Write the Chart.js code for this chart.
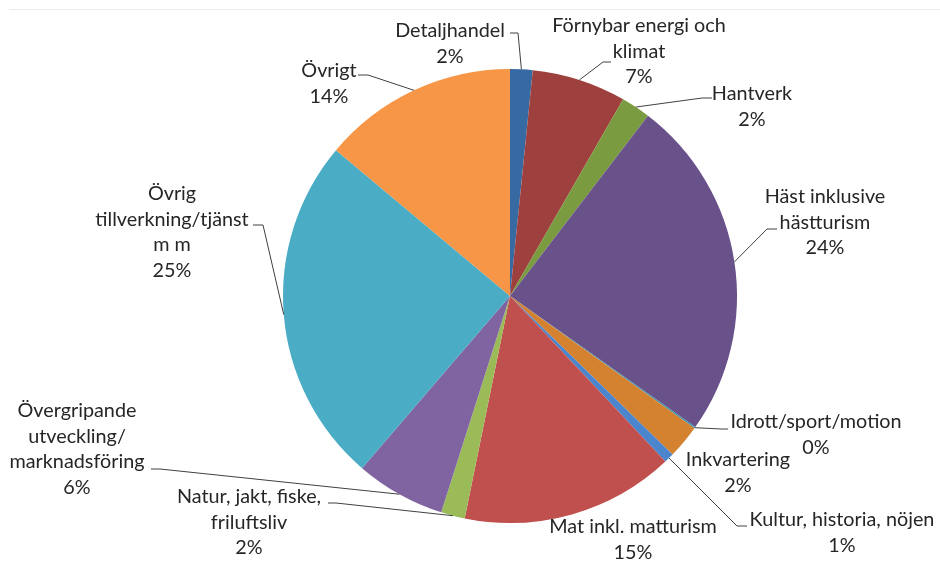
<!DOCTYPE html>
<html>
<head>
<meta charset="utf-8">
<script src="https://cdn.jsdelivr.net/npm/chart.js@4.4.1/dist/chart.umd.min.js"></script>
<style>
  body { margin: 0; background: #fff; }
  .wrap { position: relative; width: 940px; height: 561px; }
  .topline { position: absolute; top: 9px; left: 9px; right: 0; border-top: 1px solid #ececec; }
</style>
</head>
<body>
<div class="wrap">
  <div class="topline"></div>
  <canvas id="pie"></canvas>
</div>
<script>
// categories (label text split in lines) and share of each
const categories = [
  ["Detaljhandel"],
  ["Förnybar energi och", "klimat"],
  ["Hantverk"],
  ["Häst inklusive", "hästturism"],
  ["Idrott/sport/motion"],
  ["Inkvartering"],
  ["Kultur, historia, nöjen"],
  ["Mat inkl. matturism"],
  ["Natur, jakt, fiske,", "friluftsliv"],
  ["Övergripande", "utveckling/", "marknadsföring"],
  ["Övrig", "tillverkning/tjänst", "m m"],
  ["Övrigt"]
]
const shares = [1.6, 6.7, 2.1, 24.4, 0.1, 2.4, 0.7, 15.2, 1.7, 6.4, 24.8, 13.9]
const colors = ["#376AA3", "#9E413E", "#7A9B3F", "#69518A", "#3C93AB", "#D4822F",
                "#4A85CE", "#C0504D", "#9BBB59", "#8064A2", "#4BACC6", "#F79646"]

// where each label sits: text centre x, first line y, and the leader line points before the arc
const labelSpots = [
  { x: 450, y: 31, lead: [[510, 33], [518, 33]] },
  { x: 639, y: 26, lead: [[611, 62], [603, 62]] },
  { x: 752, y: 94, lead: [[712, 98], [702, 98]] },
  { x: 825, y: 197, lead: [[777, 229], [767, 229]] },
  { x: 816, y: 422, lead: [[728, 429], [721, 429]] },
  { x: 738, y: 460, lead: null },
  { x: 842, y: 520, lead: [[747, 526], [737, 526]] },
  { x: 633, y: 527, lead: null },
  { x: 249, y: 497, lead: [[328, 503], [336, 503]] },
  { x: 77, y: 411, lead: [[151, 469], [160, 469]] },
  { x: 172, y: 194, lead: [[253, 225], [263, 225]] },
  { x: 329, y: 71, lead: [[358, 75], [368, 75]] }
]

const pieLabels = {
  id: "pieLabels",
  afterDraw(chart) {
    const ctx = chart.ctx
    const arcs = chart.getDatasetMeta(0).data
    ctx.save()
    // leader lines
    ctx.strokeStyle = "#404040"
    ctx.lineWidth = 1
    arcs.forEach((arc, i) => {
      const spot = labelSpots[i]
      if (!spot.lead) return
      const mid = (arc.startAngle + arc.endAngle) / 2
      const ex = arc.x + Math.cos(mid) * arc.outerRadius
      const ey = arc.y + Math.sin(mid) * arc.outerRadius
      ctx.beginPath()
      ctx.moveTo(spot.lead[0][0], spot.lead[0][1])
      for (let k = 1; k < spot.lead.length; k++) ctx.lineTo(spot.lead[k][0], spot.lead[k][1])
      ctx.lineTo(ex, ey)
      ctx.stroke()
    })
    // texts
    ctx.fillStyle = "#262626"
    ctx.font = "19.8px Lato"
    ctx.textAlign = "center"
    ctx.textBaseline = "middle"
    categories.forEach((lines, i) => {
      const spot = labelSpots[i]
      const all = lines.concat([Math.round(shares[i]) + "%"])
      all.forEach((t, k) => {
        ctx.fillText(t, spot.x, spot.y + k * 25.5)
      })
    })
    ctx.restore()
  }
}

new Chart(document.getElementById("pie"), {
  type: "pie",
  data: {
    labels: categories.map(l => l.join(" ")),
    datasets: [{
      data: shares,
      backgroundColor: colors,
      borderWidth: 0
    }]
  },
  options: {
    responsive: true,
    maintainAspectRatio: false,
    animation: false,
    layout: { padding: { left: 283, right: 203, top: 69, bottom: 38 } },
    plugins: {
      legend: { display: false },
      tooltip: { enabled: false }
    }
  },
  plugins: [pieLabels]
})
</script>
</body>
</html>
